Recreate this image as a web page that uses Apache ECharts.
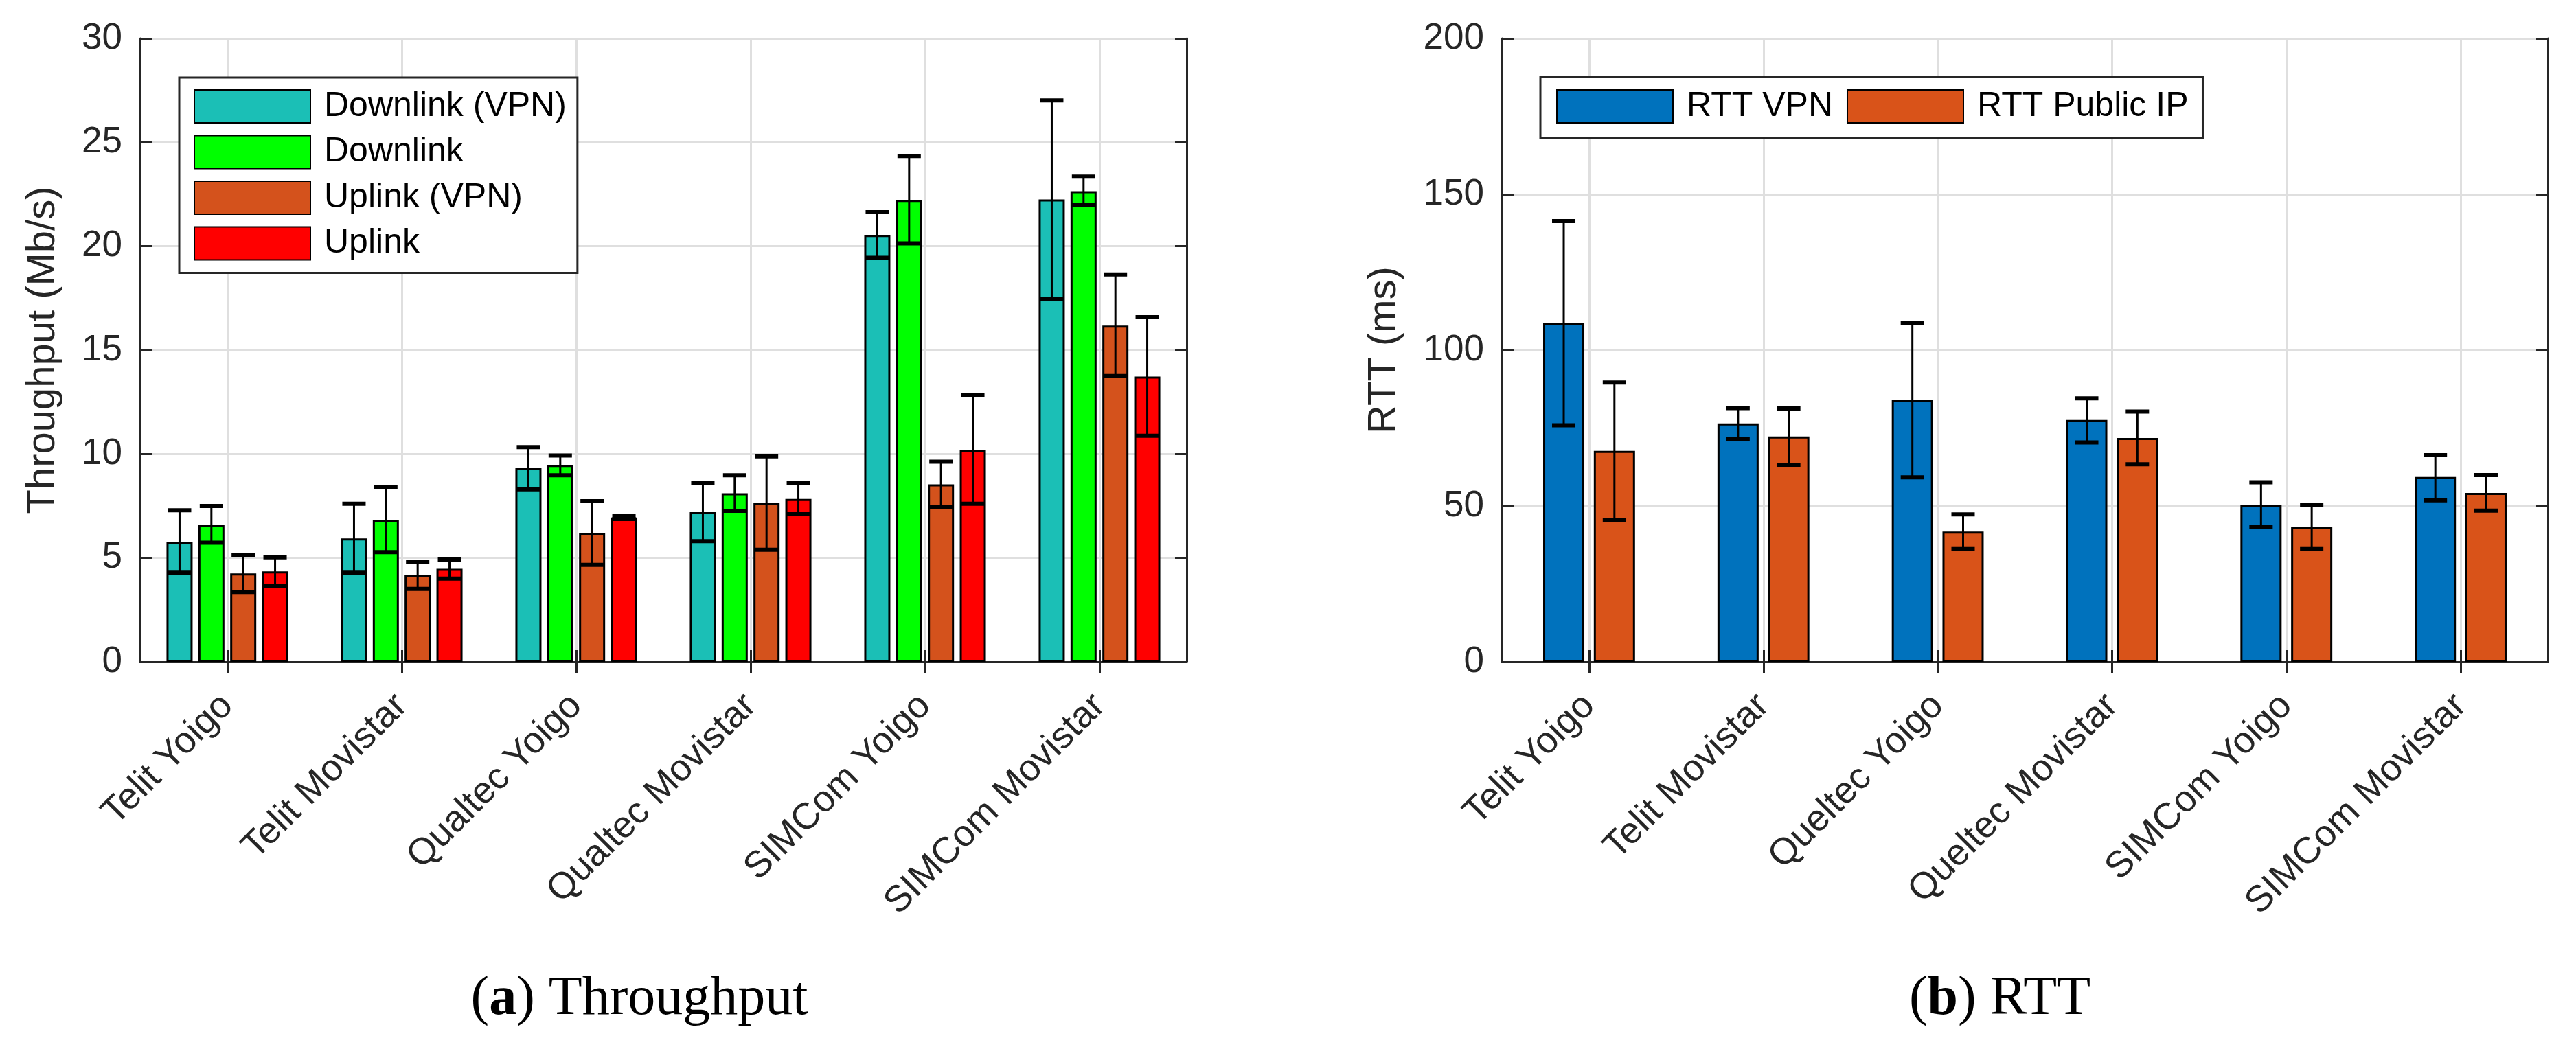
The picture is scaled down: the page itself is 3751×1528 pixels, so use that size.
<!DOCTYPE html>
<html><head><meta charset="utf-8">
<script src="https://cdn.jsdelivr.net/npm/echarts@6/dist/echarts.min.js"></script>
<style>html,body{margin:0;padding:0;background:#fff}#c{width:3751px;height:1528px}</style>
</head><body><div id="c"></div>
<script>
// ---------- data ----------
const tpCategories = ['Telit Yoigo','Telit Movistar','Qualtec Yoigo','Qualtec Movistar','SIMCom Yoigo','SIMCom Movistar'];
const rttCategories = ['Telit Yoigo','Telit Movistar','Queltec Yoigo','Queltec Movistar','SIMCom Yoigo','SIMCom Movistar'];
const tpNames = ['Downlink (VPN)','Downlink','Uplink (VPN)','Uplink'];
const rttNames = ['RTT VPN','RTT Public IP'];

const downVpn   = [5.77, 5.94, 9.32, 7.20, 20.54, 22.25];
const downVpnLo = [4.29, 4.29, 8.30, 5.81, 19.44, 17.45];
const downVpnHi = [7.29, 7.61, 10.33, 8.62, 21.64, 27.02];
const down      = [6.61, 6.82, 9.47, 8.11, 22.23, 22.65];
const downLo    = [5.73, 5.28, 8.98, 7.27, 20.14, 21.97];
const downHi    = [7.50, 8.41, 9.93, 8.98, 24.34, 23.35];
const upVpn     = [4.25, 4.16, 6.21, 7.65, 8.54, 16.18];
const upVpnLo   = [3.36, 3.51, 4.67, 5.39, 7.44, 13.75];
const upVpnHi   = [5.13, 4.82, 7.73, 9.89, 9.63, 18.64];
const up        = [4.35, 4.48, 6.95, 7.84, 10.20, 13.73];
const upLo      = [3.66, 4.01, 6.87, 7.10, 7.61, 10.88];
const upHi      = [5.03, 4.92, 7.01, 8.60, 12.82, 16.59];

const rttVpn    = [108.6, 76.5, 84.1, 77.6, 50.4, 59.3];
const rttVpnLo  = [75.9, 71.5, 59.2, 70.4, 43.4, 51.8];
const rttVpnHi  = [141.4, 81.4, 108.6, 84.5, 57.6, 66.3];
const rttPub    = [67.7, 72.3, 41.8, 71.8, 43.4, 54.2];
const rttPubLo  = [45.6, 63.2, 36.2, 63.4, 36.2, 48.5];
const rttPubHi  = [89.6, 81.3, 47.3, 80.3, 50.4, 59.9];

const tpAxis = {min: 0, max: 30, interval: 5};
const rttAxis = {min: 0, max: 200, interval: 50};

// ---------- styles ----------
const SANS = '"Liberation Sans", Arial, Helvetica, sans-serif';
const SERIF = '"Liberation Serif", "Times New Roman", serif';
const AX = '#262626';
const GRIDC = '#dfdfdf';
const tpColors = ['#1bbfb6', '#00ff00', '#d4521c', '#ff0000'];
const rttColors = ['#0072bd', '#d95319'];
const TP_BW = 38, TP_GAP = 0.22;
const RTT_BW = 60, RTT_GAP = 0.23;

function xAxes(grid, cats) {
  const line = {show: true, lineStyle: {color: AX, width: 3}};
  const tick = {show: true, inside: true, alignWithLabel: true, length: 17, lineStyle: {color: AX, width: 3}};
  return [
    {gridIndex: grid, type: 'category', data: cats, position: 'bottom', axisLine: line, axisTick: tick,
     axisLabel: {rotate: 45, fontSize: 54, color: AX, fontFamily: SANS, margin: 56, interval: 0, padding: [42, 0, 0, 0]},
     splitLine: {show: true, alignWithLabel: true, lineStyle: {color: GRIDC, width: 3}}},
    {gridIndex: grid, type: 'category', data: cats, position: 'top', axisLine: line, axisTick: tick,
     axisLabel: {show: false}, splitLine: {show: false}}
  ];
}
function yAxes(grid, rng, name, gap) {
  const line = {show: true, lineStyle: {color: AX, width: 3}};
  const tick = {show: true, inside: true, length: 17, lineStyle: {color: AX, width: 3}};
  return [
    {gridIndex: grid, type: 'value', position: 'left', min: rng.min, max: rng.max, interval: rng.interval,
     axisLine: line, axisTick: tick,
     axisLabel: {fontSize: 53, color: AX, fontFamily: SANS, margin: 26},
     splitLine: {show: true, lineStyle: {color: GRIDC, width: 3}},
     name: name, nameLocation: 'middle', nameGap: gap,
     nameTextStyle: {fontSize: 58, color: AX, fontFamily: SANS}},
    {gridIndex: grid, type: 'value', position: 'right', min: rng.min, max: rng.max, interval: rng.interval,
     axisLine: line, axisTick: tick, axisLabel: {show: false}, splitLine: {show: false}}
  ];
}

function errSeries(xIdx, yIdx, lo, hi, offset) {
  return {
    type: 'custom', xAxisIndex: xIdx, yAxisIndex: yIdx, z: 10,
    data: lo.map((v, i) => [i, v, hi[i]]),
    encode: {x: 0, y: [1, 2]},
    renderItem: function (params, api) {
      const pLo = api.coord([api.value(0), api.value(1)]);
      const pHi = api.coord([api.value(0), api.value(2)]);
      const cx = pLo[0] + offset;
      return {type: 'group', children: [
        {type: 'line', shape: {x1: cx, y1: pLo[1], x2: cx, y2: pHi[1]}, style: {stroke: '#000', lineWidth: 3}},
        {type: 'line', shape: {x1: cx - 17, y1: pLo[1], x2: cx + 17, y2: pLo[1]}, style: {stroke: '#000', lineWidth: 6}},
        {type: 'line', shape: {x1: cx - 17, y1: pHi[1], x2: cx + 17, y2: pHi[1]}, style: {stroke: '#000', lineWidth: 6}}
      ]};
    }
  };
}

const tpVals = [downVpn, down, upVpn, up];
const tpLo = [downVpnLo, downLo, upVpnLo, upLo];
const tpHi = [downVpnHi, downHi, upVpnHi, upHi];
const rttVals = [rttVpn, rttPub];
const rttLo = [rttVpnLo, rttPubLo];
const rttHi = [rttVpnHi, rttPubHi];

const series = [];
const tpPitch = TP_BW * (1 + TP_GAP);
tpVals.forEach((vals, k) => {
  series.push({type: 'bar', name: tpNames[k], xAxisIndex: 0, yAxisIndex: 0, data: vals,
    barWidth: TP_BW, barGap: (TP_GAP * 100) + '%',
    itemStyle: {color: tpColors[k], borderColor: '#000', borderWidth: 3}});
});
tpVals.forEach((vals, k) => series.push(errSeries(0, 0, tpLo[k], tpHi[k], (k - 1.5) * tpPitch)));
const rttPitch = RTT_BW * (1 + RTT_GAP);
rttVals.forEach((vals, k) => {
  series.push({type: 'bar', name: rttNames[k], xAxisIndex: 2, yAxisIndex: 2, data: vals,
    barWidth: RTT_BW, barGap: (RTT_GAP * 100) + '%',
    itemStyle: {color: rttColors[k], borderColor: '#000', borderWidth: 3}});
});
rttVals.forEach((vals, k) => series.push(errSeries(2, 2, rttLo[k], rttHi[k], (k - 0.5) * rttPitch)));

const legendCommon = {
  icon: 'rect', itemWidth: 169, itemHeight: 48, selectedMode: false,
  backgroundColor: '#fff', borderColor: AX, borderWidth: 3, borderRadius: 0,
  textStyle: {fontSize: 50, color: '#000', fontFamily: SANS, padding: [0, 0, 0, 15]}
};
const capRich = {
  n: {fontFamily: SERIF, fontSize: 80, color: '#000'},
  b: {fontFamily: SERIF, fontSize: 80, color: '#000', fontWeight: 'bold'}
};

const option = {
  animation: false,
  backgroundColor: '#fff',
  grid: [
    {left: 204, top: 56, width: 1524, height: 908, containLabel: false},
    {left: 2187, top: 56, width: 1523, height: 908, containLabel: false}
  ],
  xAxis: xAxes(0, tpCategories).concat(xAxes(1, rttCategories)),
  yAxis: yAxes(0, tpAxis, 'Throughput (Mb/s)', 112).concat(yAxes(1, rttAxis, 'RTT (ms)', 142)),
  legend: [
    Object.assign({}, legendCommon, {data: tpNames, orient: 'vertical', left: 261, top: 113,
      itemGap: 16.5, padding: [17, 16, 18, 21]}),
    Object.assign({}, legendCommon, {data: rttNames, orient: 'horizontal', left: 2243, top: 112,
      itemGap: 20, padding: [18, 21, 21, 23]})
  ],
  graphic: [
    {type: 'text', x: 931, y: 1456, style: {text: '{n|(}{b|a}{n|) Throughput}', rich: capRich, align: 'center', verticalAlign: 'middle'}},
    {type: 'text', x: 2912, y: 1456, style: {text: '{n|(}{b|b}{n|) RTT}', rich: capRich, align: 'center', verticalAlign: 'middle'}}
  ],
  series: series
};
const chart = echarts.init(document.getElementById('c'), null, {renderer: 'canvas'});
chart.setOption(option);
</script></body></html>
